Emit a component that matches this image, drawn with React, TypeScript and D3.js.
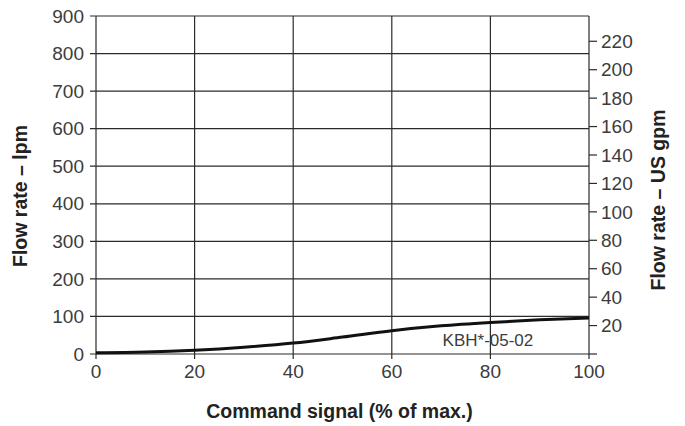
import * as d3 from 'd3';

// Flow rate vs command signal, KBH*-05-02
const signalPct = [0, 10, 20, 30, 40, 50, 60, 70, 80, 90, 100];
const flowLpm = [3, 5, 10, 18, 29, 45, 62, 75, 84, 91, 96];

const xTicks = [0, 20, 40, 60, 80, 100];
const lpmTicks = [0, 100, 200, 300, 400, 500, 600, 700, 800, 900];
const gpmTicks = [0, 20, 40, 60, 80, 100, 120, 140, 160, 180, 200, 220];

const LPM_PER_GPM = 3.785;
const curveLabel = 'KBH*-05-02';

const W = 685;
const H = 426;
const margin = { top: 16, right: 96, bottom: 72, left: 96 };
const FONT = '"Liberation Sans", Arial, Helvetica, sans-serif';
const INK = '#2b2b2b';
const TXT = '#3c3c3c';

export default function App() {
  const x = d3.scaleLinear().domain([0, 100]).range([margin.left, W - margin.right]);
  const y = d3.scaleLinear().domain([0, 900]).range([H - margin.bottom, margin.top]);
  const yGpm = d3.scaleLinear().domain([0, 900 / LPM_PER_GPM]).range([H - margin.bottom, margin.top]);

  const pts: [number, number][] = signalPct.map((s, i) => [s, flowLpm[i]]);
  const line = d3
    .line<[number, number]>()
    .x((d) => x(d[0]))
    .y((d) => y(d[1]))
    .curve(d3.curveMonotoneX);

  const x0 = x(0);
  const x1 = x(100);
  const y0 = y(0);
  const yTop = y(900);

  return (
    <svg width={W} height={H} style={{ position: 'absolute', left: 0, top: 0, background: '#fff' }}>
      {/* vertical grid */}
      {xTicks.map((t) => (
        <line key={'vx' + t} x1={x(t)} x2={x(t)} y1={yTop} y2={y0 + 5} stroke={INK} strokeWidth={1.2} />
      ))}
      {/* horizontal grid + left ticks */}
      {lpmTicks.map((t) => (
        <line key={'hy' + t} x1={x0 - 6} x2={x1} y1={y(t)} y2={y(t)} stroke={INK} strokeWidth={1.2} />
      ))}
      {/* right axis ticks */}
      {gpmTicks.map((t) => (
        <line key={'rg' + t} x1={x1} x2={x1 + 8} y1={yGpm(t)} y2={yGpm(t)} stroke={INK} strokeWidth={1.2} />
      ))}

      {/* curve */}
      <path d={line(pts) || ''} fill="none" stroke="#111" strokeWidth={3} />

      {/* left tick labels */}
      {lpmTicks.map((t) => (
        <text key={'ly' + t} x={x0 - 12} y={y(t)} dy="0.35em" textAnchor="end" fontFamily={FONT} fontSize={19} fill={TXT}>
          {t}
        </text>
      ))}
      {/* right tick labels */}
      {gpmTicks.filter((t) => t > 0).map((t) => (
        <text key={'ry' + t} x={x1 + 12} y={yGpm(t)} dy="0.35em" textAnchor="start" fontFamily={FONT} fontSize={19} fill={TXT}>
          {t}
        </text>
      ))}
      {/* bottom tick labels */}
      {xTicks.map((t) => (
        <text key={'bx' + t} x={x(t)} y={y0 + 24} textAnchor="middle" fontFamily={FONT} fontSize={19} fill={TXT}>
          {t}
        </text>
      ))}

      {/* curve label */}
      <text x={x(79.5)} y={y(0) - 8} textAnchor="middle" fontFamily={FONT} fontSize={17} fill={TXT}>
        {curveLabel}
      </text>

      {/* axis titles */}
      <text x={(x0 + x1) / 2 - 3} y={418} textAnchor="middle" fontFamily={FONT} fontSize={19.5} fontWeight="bold" fill="#222">
        Command signal (% of max.)
      </text>
      <text
        transform={`translate(27, ${(yTop + y0) / 2 + 11}) rotate(-90)`}
        textAnchor="middle"
        fontFamily={FONT}
        fontSize={19.5}
        fontWeight="bold"
        fill="#222"
      >
        Flow rate – lpm
      </text>
      <text
        transform={`translate(665, ${(yTop + y0) / 2 + 15}) rotate(-90)`}
        textAnchor="middle"
        fontFamily={FONT}
        fontSize={19.5}
        fontWeight="bold"
        fill="#222"
      >
        Flow rate – US gpm
      </text>
    </svg>
  );
}
